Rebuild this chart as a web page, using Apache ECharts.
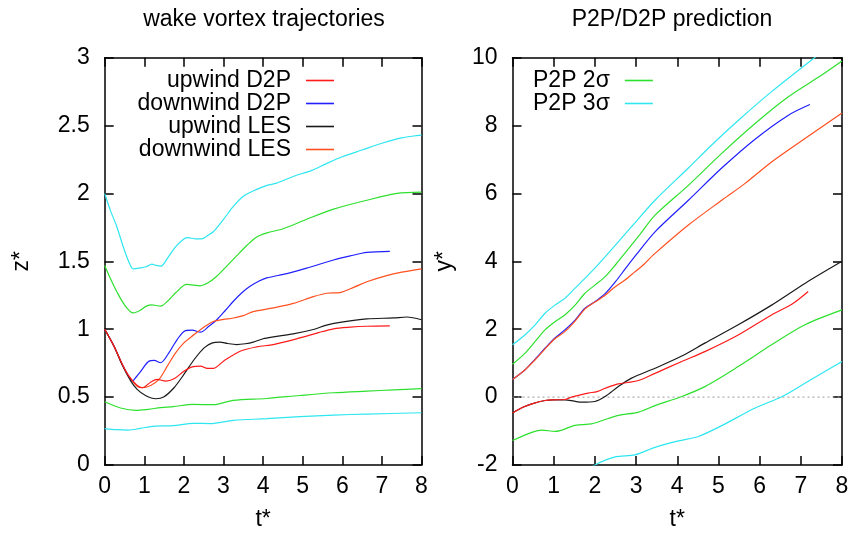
<!DOCTYPE html>
<html><head><meta charset="utf-8">
<script src="https://cdn.jsdelivr.net/npm/echarts@6/dist/echarts.min.js"></script>
<style>html,body{margin:0;padding:0;background:#fff}#c{width:855px;height:536px}</style>
</head><body><div id="c"></div>
<script>
// ---------- data: [t*, value] ----------
// left panel: z* vs t*
const leftCyanUpper = [[0,2.0],[0.15,1.87],[0.3,1.76],[0.5,1.58],[0.65,1.47],[0.72,1.445],[0.85,1.45],[1.05,1.46],[1.19,1.48],[1.3,1.47],[1.42,1.465],[1.6,1.53],[1.8,1.61],[2.0,1.665],[2.1,1.675],[2.3,1.665],[2.45,1.665],[2.6,1.69],[2.75,1.72],[3.0,1.81],[3.25,1.905],[3.5,1.98],[3.84,2.03],[4.1,2.06],[4.34,2.076],[4.76,2.125],[5.23,2.17],[5.6,2.22],[6.0,2.27],[6.5,2.32],[7.0,2.37],[7.5,2.41],[8.0,2.43]];
const leftGreenUpper = [[0,1.47],[0.15,1.37],[0.3,1.28],[0.5,1.18],[0.72,1.12],[0.9,1.14],[1.05,1.17],[1.19,1.18],[1.3,1.175],[1.41,1.17],[1.6,1.21],[1.8,1.27],[2.07,1.33],[2.25,1.325],[2.41,1.32],[2.6,1.34],[2.83,1.39],[3.1,1.47],[3.33,1.54],[3.6,1.62],[3.84,1.68],[4.1,1.71],[4.51,1.74],[5.1,1.81],[5.78,1.885],[6.62,1.95],[7.38,2.0],[8.0,2.01]];
const leftBlue = [[0,1.0],[0.235,0.875],[0.445,0.74],[0.61,0.654],[0.7,0.618],[0.8,0.65],[0.91,0.69],[1.12,0.765],[1.25,0.77],[1.41,0.753],[1.62,0.826],[1.83,0.924],[2.04,0.99],[2.21,0.993],[2.42,0.978],[2.63,1.022],[2.83,1.07],[3.05,1.14],[3.25,1.206],[3.45,1.265],[3.67,1.316],[3.9,1.355],[4.09,1.378],[4.6,1.41],[5.1,1.45],[5.78,1.51],[6.2,1.54],[6.62,1.566],[7.2,1.574]];
const leftOrange = [[0,1.0],[0.235,0.875],[0.445,0.74],[0.61,0.654],[0.82,0.58],[0.95,0.569],[1.16,0.586],[1.37,0.63],[1.58,0.728],[1.79,0.826],[2.0,0.9],[2.26,0.961],[2.51,1.017],[2.76,1.059],[3.0,1.072],[3.25,1.083],[3.5,1.1],[3.75,1.13],[4.26,1.157],[4.76,1.19],[5.27,1.24],[5.6,1.265],[5.94,1.27],[6.3,1.31],[6.62,1.35],[7.12,1.395],[7.5,1.42],[8.0,1.445]];
const leftBlack = [[0,1.0],[0.235,0.875],[0.445,0.735],[0.66,0.618],[0.82,0.557],[1.03,0.512],[1.29,0.488],[1.5,0.503],[1.75,0.569],[2.0,0.667],[2.26,0.777],[2.51,0.863],[2.72,0.9],[2.91,0.905],[3.1,0.895],[3.33,0.887],[3.55,0.893],[3.75,0.905],[4.0,0.93],[4.26,0.944],[4.76,0.966],[5.27,0.998],[5.6,1.03],[5.94,1.05],[6.62,1.076],[7.29,1.083],[7.63,1.09],[8.0,1.07]];
const leftRed = [[0,1.0],[0.235,0.875],[0.445,0.74],[0.61,0.654],[0.82,0.586],[0.95,0.569],[1.16,0.61],[1.33,0.63],[1.54,0.618],[1.75,0.635],[2.0,0.69],[2.21,0.723],[2.42,0.728],[2.59,0.711],[2.75,0.712],[3.0,0.765],[3.42,0.838],[3.84,0.87],[4.26,0.887],[4.93,0.936],[5.4,0.975],[5.78,1.003],[6.2,1.015],[6.62,1.022],[7.2,1.025]];
const leftGreenLower = [[0,0.466],[0.4,0.42],[0.79,0.402],[1.1,0.41],[1.41,0.422],[1.73,0.43],[2.24,0.446],[2.74,0.444],[3.25,0.476],[4.09,0.49],[4.93,0.512],[5.78,0.532],[6.62,0.544],[7.3,0.553],[8.0,0.562]];
const leftCyanLower = [[0,0.268],[0.3,0.26],[0.6,0.257],[0.9,0.27],[1.26,0.287],[1.73,0.29],[2.24,0.307],[2.66,0.305],[3.25,0.329],[4.09,0.341],[4.93,0.356],[5.78,0.368],[6.62,0.375],[8.0,0.385]];

// right panel: y* vs t*
const rightCyanUpper = [[0,1.54],[0.3,1.83],[0.55,2.13],[0.79,2.47],[1.03,2.71],[1.27,2.91],[1.52,3.21],[1.76,3.5],[2.0,3.8],[2.29,4.19],[2.89,5.02],[3.46,5.8],[4.27,6.75],[4.83,7.42],[5.48,8.15],[6.29,9.0],[7.3,9.97],[7.8,10.45]];
const rightGreenUpper = [[0,0.97],[0.3,1.29],[0.55,1.64],[0.79,1.98],[1.03,2.22],[1.27,2.42],[1.52,2.71],[1.76,3.06],[2.0,3.3],[2.25,3.55],[2.5,3.9],[2.73,4.24],[3.1,4.8],[3.46,5.36],[4.27,6.24],[5.08,7.18],[5.89,8.06],[6.69,8.84],[7.5,9.48],[8.0,9.9]];
const rightBlue = [[0,0.52],[0.3,0.8],[0.55,1.12],[0.79,1.44],[1.03,1.74],[1.27,1.98],[1.52,2.27],[1.76,2.62],[2.0,2.81],[2.25,3.05],[2.5,3.4],[2.75,3.8],[3.0,4.19],[3.46,4.87],[4.27,5.8],[5.08,6.75],[5.89,7.6],[6.69,8.3],[7.22,8.62]];
const rightOrange = [[0,0.52],[0.3,0.8],[0.55,1.1],[0.79,1.42],[1.03,1.72],[1.27,1.93],[1.52,2.24],[1.76,2.6],[2.0,2.8],[2.25,3.0],[2.44,3.2],[2.73,3.45],[2.97,3.69],[3.2,3.92],[3.42,4.19],[4.27,5.07],[5.08,5.8],[5.64,6.29],[6.29,6.93],[7.1,7.62],[8.0,8.37]];
const rightBlack = [[0,-0.47],[0.25,-0.3],[0.47,-0.2],[0.79,-0.1],[1.0,-0.08],[1.27,-0.08],[1.5,-0.12],[1.68,-0.15],[2.0,-0.13],[2.25,0.02],[2.57,0.31],[2.89,0.56],[3.46,0.85],[4.11,1.21],[4.67,1.59],[5.48,2.13],[6.29,2.71],[7.1,3.35],[8.0,4.0]];
const rightRed = [[0,-0.47],[0.25,-0.3],[0.47,-0.2],[0.79,-0.1],[1.0,-0.08],[1.27,-0.07],[1.43,0.0],[1.6,0.05],[1.84,0.12],[2.05,0.16],[2.25,0.26],[2.57,0.39],[2.8,0.43],[3.06,0.49],[3.46,0.7],[4.11,1.05],[4.67,1.34],[5.48,1.83],[6.29,2.42],[6.8,2.75],[7.18,3.11]];
const rightGreenLower = [[0,-1.28],[0.47,-1.04],[0.71,-0.97],[1.04,-1.01],[1.52,-0.83],[1.92,-0.79],[2.2,-0.68],[2.57,-0.54],[3.06,-0.44],[3.46,-0.25],[4.11,0.02],[4.67,0.31],[5.48,0.9],[6.29,1.54],[7.1,2.13],[8.0,2.57]];
const rightCyanLower = [[1.5,-2.4],[2.0,-2.0],[2.49,-1.76],[2.97,-1.7],[3.46,-1.48],[4.03,-1.29],[4.51,-1.16],[5.08,-0.84],[5.89,-0.32],[6.55,0.02],[7.1,0.41],[8.0,1.05]];
const zeroLine = [[0,0],[8,0]];

// ---------- axes / labels ----------
const tRange = [0, 8];
const zRange = [0, 3];
const yRange = [-2, 10];
const leftLegendNames = ['upwind D2P', 'downwind D2P', 'upwind LES', 'downwind LES'];
const rightLegendNames = ['P2P 2σ', 'P2P 3σ'];
const titles = ['wake vortex trajectories', 'P2P/D2P prediction'];

const FONT = '"Liberation Sans", Arial, Helvetica, sans-serif';
const FS = 23;
const COL = {red:'#ff1a1a', blue:'#2020ff', black:'#1a1a1a', orange:'#ff5020', green:'#2ee02e', cyan:'#2ee6f0'};

function frameX(grid, main, name) {
  return {
    type:'value', gridIndex:grid, min:tRange[0], max:tRange[1], interval:1,
    position: main ? 'bottom' : 'top',
    axisLine:{show:true, onZero:false, lineStyle:{color:'#000', width:1.5}},
    axisTick:{show:true, inside:true, length:9, lineStyle:{color:'#000', width:1.5}},
    axisLabel:{show:main, color:'#000', fontFamily:FONT, fontSize:FS, margin:10},
    splitLine:{show:false},
    name: main ? name : '', nameLocation:'middle', nameGap:43,
    nameTextStyle:{color:'#000', fontFamily:FONT, fontSize:FS}
  };
}
function frameY(grid, main, range, interval, name, gap) {
  return {
    type:'value', gridIndex:grid, min:range[0], max:range[1], interval:interval,
    position: main ? 'left' : 'right',
    axisLine:{show:true, onZero:false, lineStyle:{color:'#000', width:1.5}},
    axisTick:{show:true, inside:true, length:9, lineStyle:{color:'#000', width:1.5}},
    axisLabel:{show:main, color:'#000', fontFamily:FONT, fontSize:FS, margin:15},
    splitLine:{show:false},
    name: main ? name : '', nameLocation:'middle', nameGap:gap,
    nameTextStyle:{color:'#000', fontFamily:FONT, fontSize:FS}
  };
}
function line(name, data, color, xi, yi, extra) {
  return Object.assign({
    type:'line', name:name, data:data, xAxisIndex:xi, yAxisIndex:yi,
    symbol:'none', showSymbol:false, smooth:0.3,
    clip:true, z:3,
    lineStyle:{color:color, width:1.2}, itemStyle:{color:color}
  }, extra || {});
}
const legendBase = {
  orient:'vertical', align:'right', top:69, icon:'rect',
  itemWidth:28, itemHeight:1.6, itemGap:0, selectedMode:false, padding:0,
  textStyle:{fontFamily:FONT, fontSize:FS, color:'#000', padding:[0,10,0,0]}
};

const option = {
  animation:false,
  backgroundColor:'#fff',
  title:[
    {text:titles[0], left:264, top:8, textAlign:'center', padding:0,
     textStyle:{fontFamily:FONT, fontSize:FS, fontWeight:'normal', color:'#000'}},
    {text:titles[1], left:672, top:8, textAlign:'center', padding:0,
     textStyle:{fontFamily:FONT, fontSize:FS, fontWeight:'normal', color:'#000'}}
  ],
  legend:[
    Object.assign({}, legendBase, {data:leftLegendNames, right:855-334}),
    Object.assign({}, legendBase, {data:rightLegendNames, left:533})
  ],
  grid:[
    {left:104.7, right:855-421.5, top:57.7, bottom:536-465.7},
    {left:512.5, right:855-842, top:57.7, bottom:536-465.7}
  ],
  xAxis:[frameX(0,true,'t*'), frameX(0,false), frameX(1,true,'t*'), frameX(1,false)],
  yAxis:[frameY(0,true,zRange,0.5,'z*',72), frameY(0,false,zRange,0.5), frameY(1,true,yRange,2,'y*',56), frameY(1,false,yRange,2)],
  series:[
    line('P2P 3σ', leftCyanUpper, COL.cyan, 0, 0),
    line('P2P 2σ', leftGreenUpper, COL.green, 0, 0),
    line('P2P 2σ', leftGreenLower, COL.green, 0, 0),
    line('P2P 3σ', leftCyanLower, COL.cyan, 0, 0),
    line('downwind D2P', leftBlue, COL.blue, 0, 0),
    line('downwind LES', leftOrange, COL.orange, 0, 0),
    line('upwind LES', leftBlack, COL.black, 0, 0),
    line('upwind D2P', leftRed, COL.red, 0, 0),
    line('zero', zeroLine, '#999', 2, 2, {smooth:false, z:1, lineStyle:{color:'#999', width:1, type:[2,3]}}),
    line('P2P 3σ', rightCyanUpper, COL.cyan, 2, 2),
    line('P2P 2σ', rightGreenUpper, COL.green, 2, 2),
    line('P2P 2σ', rightGreenLower, COL.green, 2, 2),
    line('P2P 3σ', rightCyanLower, COL.cyan, 2, 2),
    line('downwind D2P', rightBlue, COL.blue, 2, 2),
    line('downwind LES', rightOrange, COL.orange, 2, 2),
    line('upwind LES', rightBlack, COL.black, 2, 2),
    line('upwind D2P', rightRed, COL.red, 2, 2)
  ]
};
const chart = echarts.init(document.getElementById('c'), null, {renderer:'canvas'});
chart.setOption(option);
</script>
</body></html>
